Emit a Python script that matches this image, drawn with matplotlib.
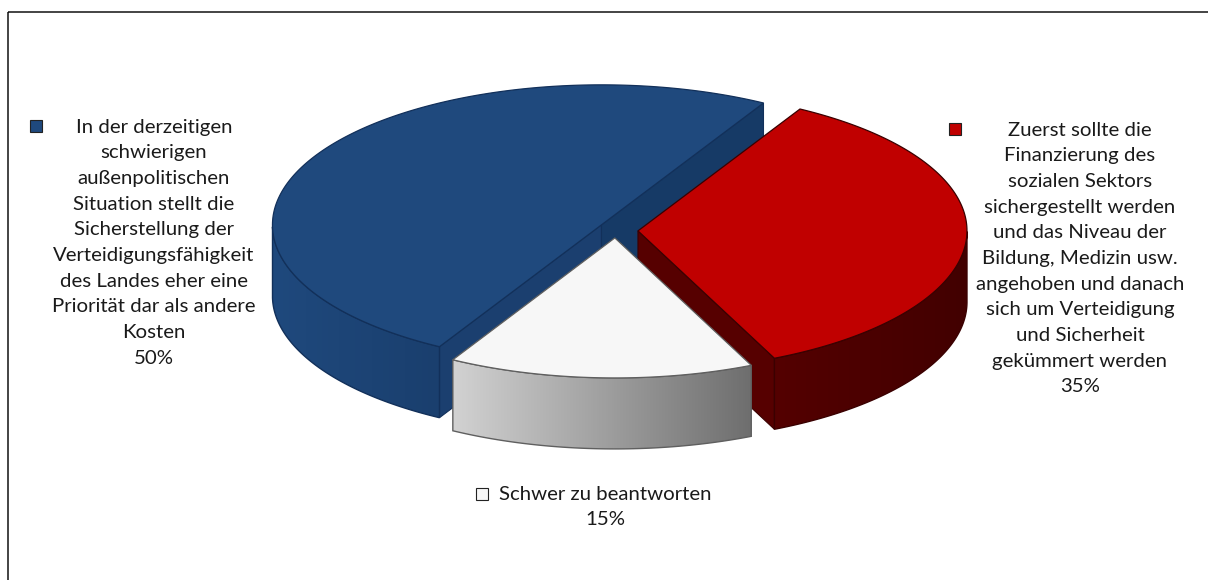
#plot.py
import numpy as np
import matplotlib
matplotlib.use("Agg")
import matplotlib.pyplot as plt
from matplotlib.patches import Polygon, Rectangle

# values in percent, clockwise from the start angle
values = [35, 15, 50]
labels = [
    ["Zuerst sollte die", "Finanzierung des", "sozialen Sektors", "sichergestellt werden",
     "und das Niveau der", "Bildung, Medizin usw.", "angehoben und danach",
     "sich um Verteidigung", "und Sicherheit", "gekümmert werden", "35%"],
    ["Schwer zu beantworten", "15%"],
    ["In der derzeitigen", "schwierigen", "außenpolitischen", "Situation stellt die",
     "Sicherstellung der", "Verteidigungsfähigkeit", "des Landes eher eine",
     "Priorität dar als andere", "Kosten", "50%"],
]
top_colors = ["#c00000", "#f7f7f7", "#1f497d"]
wall_colors = [("#540000", "#420000"), ("#d2d2d2", "#6e6e6e"), ("#1f497d", "#1a3f6e")]
cut_colors = ["#560000", None, "#163a66"]
edge_colors = ["#3a0000", "#5f5f5f", "#12305a"]
key_pos = [(955, 129), (481.5, 493.5), (35.5, 126)]
text_pos = [(1080, 130), (605, 494), (154, 127)]
nudge = [(0, 0), (-2.5, -1), (0.5, -1.5)]

start_angle = 60.5
cx, cy = 618.2, 230.5
rx, ry = 329, 140
depth = 71
explode = 19.8
line_h = 25.67

plt.rcParams['font.family'] = ['Lato', 'DejaVu Sans']
fig = plt.figure(figsize=(12.08, 5.8), dpi=100)
ax = fig.add_axes([0, 0, 1, 1])


def ell(x0, y0, ang):
    a = np.radians(ang)
    return np.column_stack([x0 + rx * np.cos(a), y0 - ry * np.sin(a)])


def gradient_wall(pts, c1, c2, edge, z):
    # horizontal gradient clipped to the wall shape
    poly = Polygon(pts, closed=True, fc="none", ec=edge, lw=1, zorder=z + 0.1)
    ax.add_patch(poly)
    clip = Polygon(pts, closed=True, transform=ax.transData)
    cols = matplotlib.colors.LinearSegmentedColormap.from_list("w", [c1, c2])
    im = ax.imshow(np.linspace(0, 1, 256).reshape(1, -1), cmap=cols, aspect="auto",
                   extent=[pts[:, 0].min(), pts[:, 0].max(), pts[:, 1].max(), pts[:, 1].min()],
                   zorder=z)
    im.set_clip_path(clip)


# blue first, then red, white goes on top
angle = start_angle
slices = []
for i, v in enumerate(values):
    sweep = v / sum(values) * 360
    slices.append((i, angle - sweep, angle))
    angle -= sweep

order = [2, 0, 1]
z = 2
for i in order:
    a0, a1 = slices[i][1], slices[i][2]
    mid = np.radians((a0 + a1) / 2)
    x0 = cx + explode * np.cos(mid) + nudge[i][0]
    y0 = cy - explode * np.sin(mid) * ry / rx + nudge[i][1]
    arc = ell(x0, y0, np.linspace(a0, a1, 200))

    # cut faces that look towards the viewer
    if i == 2:
        lower = ell(x0, y0, np.array([a0]))[0]
        upper = ell(x0, y0, np.array([a1]))[0]
        for p, col in ((upper, "#1b3f6f"), (lower, cut_colors[2])):
            face = np.array([p, [x0, y0], [x0, y0 + depth], [p[0], p[1] + depth]])
            ax.add_patch(Polygon(face, closed=True, fc=col, ec=edge_colors[2], lw=0.8, zorder=z))
    if i == 0:
        lower = ell(x0, y0, np.array([a0]))[0]
        face = np.array([[x0, y0], lower, [lower[0], lower[1] + depth], [x0, y0 + depth]])
        ax.add_patch(Polygon(face, closed=True, fc=cut_colors[0], ec=edge_colors[0], lw=0.8, zorder=z))

    # outer wall, only the part below the ellipse middle
    front = np.linspace(a0, a1, 200)
    front = front[np.sin(np.radians(front)) <= 0]
    top = ell(x0, y0, front)
    bottom = top + [0, depth]
    wall = np.vstack([top, bottom[::-1]])
    gradient_wall(wall, wall_colors[i][0], wall_colors[i][1], edge_colors[i], z + 0.2)

    # top of the slice
    shape = np.vstack([[x0, y0], arc])
    ax.add_patch(Polygon(shape, closed=True, fc=top_colors[i], ec=edge_colors[i], lw=0.9, zorder=z + 0.5))
    z += 1

# legend keys and texts
for i in range(len(values)):
    kx, ky = key_pos[i]
    ax.add_patch(Rectangle((kx - 6, ky - 6), 12, 12, fc=top_colors[i], ec="#222222", lw=0.8, zorder=8))
    tx, ty = text_pos[i]
    for n, line in enumerate(labels[i]):
        ax.text(tx, ty + n * line_h, line, ha="center", va="center", fontsize=14.7,
                color="#1a1a1a", zorder=9)

ax.set_xlim(0, 1208)
ax.set_ylim(580, 0)
ax.axis("off")

# outer frame of the chart
ax.add_patch(Rectangle((8, 12), 1300, 700, fc="none", ec="#111111", lw=1.1, zorder=1))

fig.savefig("out.png", dpi=100)
